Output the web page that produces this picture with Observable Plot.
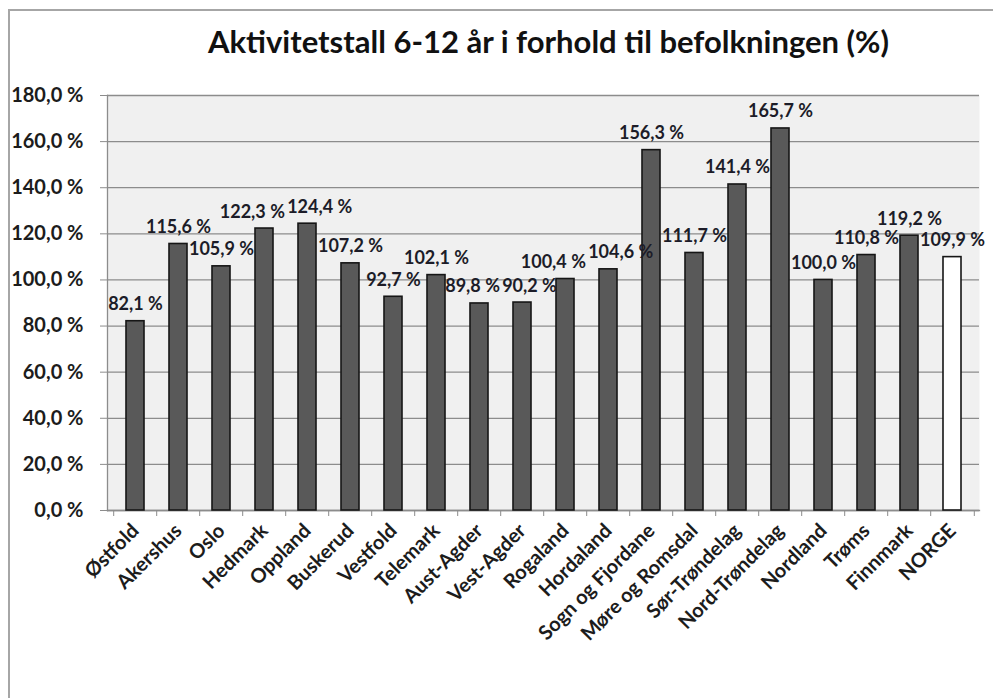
<!DOCTYPE html>
<html>
<head>
<meta charset="utf-8">
<script src="https://cdn.jsdelivr.net/npm/d3@7"></script>
<script src="https://cdn.jsdelivr.net/npm/@observablehq/plot@0.6"></script>
<style>
  html, body { margin: 0; padding: 0; background: #fff; }
  #wrap { position: relative; width: 993px; height: 698px; overflow: hidden; font-family: Lato, "Open Sans", sans-serif; }
  #border { position: absolute; left: 8px; top: 9px; width: 1000px; height: 720px; border: 2px solid #a6a6a6; box-sizing: border-box; }
  #chart { position: absolute; left: 0; top: 0; }
</style>
</head>
<body>
<div id="wrap">
  <div id="border"></div>
  <div id="chart"></div>
</div>
<script>
const title = "Aktivitetstall 6-12 år i forhold til befolkningen (%)";
const categories = ["Østfold","Akershus","Oslo","Hedmark","Oppland","Buskerud","Vestfold","Telemark","Aust-Agder","Vest-Agder","Rogaland","Hordaland","Sogn og Fjordane","Møre og Romsdal","Sør-Trøndelag","Nord-Trøndelag","Nordland","Trøms","Finnmark","NORGE"];
const values = [82.1,115.6,105.9,122.3,124.4,107.2,92.7,102.1,89.8,90.2,100.4,104.6,156.3,111.7,141.4,165.7,100.0,110.8,119.2,109.9];
const yTicks = [0,20,40,60,80,100,120,140,160,180];

const data = categories.map((name, i) => ({name, value: values[i]}));
const fmt = v => v.toFixed(1).replace(".", ",") + " %";

const W = 993, H = 698, mL = 107, mR = 14, mT = 95, mB = 188;
const step = (W - mL - mR) / categories.length;
const grid = "#8c8c8c";
const font = "Lato, 'Open Sans', sans-serif";

const chart = Plot.plot({
  width: W, height: H,
  marginLeft: mL, marginRight: mR, marginTop: mT, marginBottom: mB,
  style: {fontFamily: font, background: "transparent"},
  x: {domain: categories, paddingInner: 0.59, paddingOuter: 0.295, label: null},
  y: {domain: [0, 180], label: null},
  marks: [
    Plot.frame({fill: "#f0f0f0", stroke: null}),
    Plot.ruleY(yTicks, {stroke: grid, strokeWidth: 1.3}),
    Plot.frame({anchor: "left", stroke: grid, strokeWidth: 1.3}),
    Plot.frame({anchor: "bottom", stroke: grid, strokeWidth: 1.3}),
    Plot.barY(data, {x: "name", y: "value", fill: d => d.name === "NORGE" ? "#ffffff" : "#595959", stroke: "#161616", strokeWidth: 1.6}),
    Plot.text(data, {x: "name", y: "value", text: d => fmt(d.value), lineAnchor: "bottom", dy: -11, fontSize: 18, fontWeight: "bold", fill: "#1c1c28"}),
    Plot.axisY({ticks: yTicks, tickSize: 7, tickPadding: 17, tickFormat: fmt, fontSize: 20, fontWeight: "bold", stroke: grid, fill: "#1c1c1c", label: null}),
    Plot.axisX({tickSize: 6, tickFormat: () => "", dx: -step / 2, stroke: grid, label: null}),
    Plot.axisX({ticks: [categories[categories.length - 1]], tickSize: 6, tickFormat: () => "", dx: step / 2, stroke: grid, label: null}),
    Plot.axisX({tickSize: 0, tickRotate: -45, tickPadding: 17, fontSize: 20, fontWeight: "bold", fill: "#1c1c1c", label: null}),
    Plot.text([title], {frameAnchor: "top", dy: -52, dx: 5, fontSize: 31, fontWeight: "bold", fill: "#111", lineAnchor: "middle"})
  ]
});
document.getElementById("chart").appendChild(chart);

// Find the value-label group: the first group of text marks with one text per value that is not an axis
const groups = Array.from(chart.querySelectorAll("g")).filter(g =>
  g.querySelectorAll(":scope > text").length === values.length &&
  !(g.getAttribute("aria-label") || "").includes("axis"));
const texts = groups.length ? Array.from(groups[0].querySelectorAll(":scope > text")) : [];

// Nudge adjacent value labels apart horizontally where their glyphs collide (as the original chart does)
const svgBox = chart.getBoundingClientRect();
const boxes = texts.map(t => {
  const b = t.getBoundingClientRect();
  return {x: b.left - svgBox.left, y: b.top + 0.2 * b.height, width: b.width, height: 0.6 * b.height};
});
const shifts = texts.map(() => 0);
for (let iter = 0; iter < 80; iter++) {
  let moved = false;
  for (let i = 0; i < boxes.length - 1; i++) {
    const a = boxes[i], b = boxes[i + 1];
    const vOverlap = Math.min(a.y + a.height, b.y + b.height) - Math.max(a.y, b.y);
    if (vOverlap <= 0) continue;
    const over = (a.x + shifts[i] + a.width + 2) - (b.x + shifts[i + 1]);
    if (over > 0.5) {
      shifts[i] -= over / 2;
      shifts[i + 1] += over / 2;
      moved = true;
    }
  }
  boxes.forEach((b, i) => {
    const right = b.x + shifts[i] + b.width;
    if (right > W - 3) shifts[i] -= right - (W - 3);
  });
  if (!moved) break;
}
texts.forEach((t, i) => {
  if (shifts[i]) {
    const tr = t.getAttribute("transform");
    t.setAttribute("transform", `translate(${shifts[i]},0)` + (tr ? " " + tr : ""));
  }
});
</script>
</body>
</html>
